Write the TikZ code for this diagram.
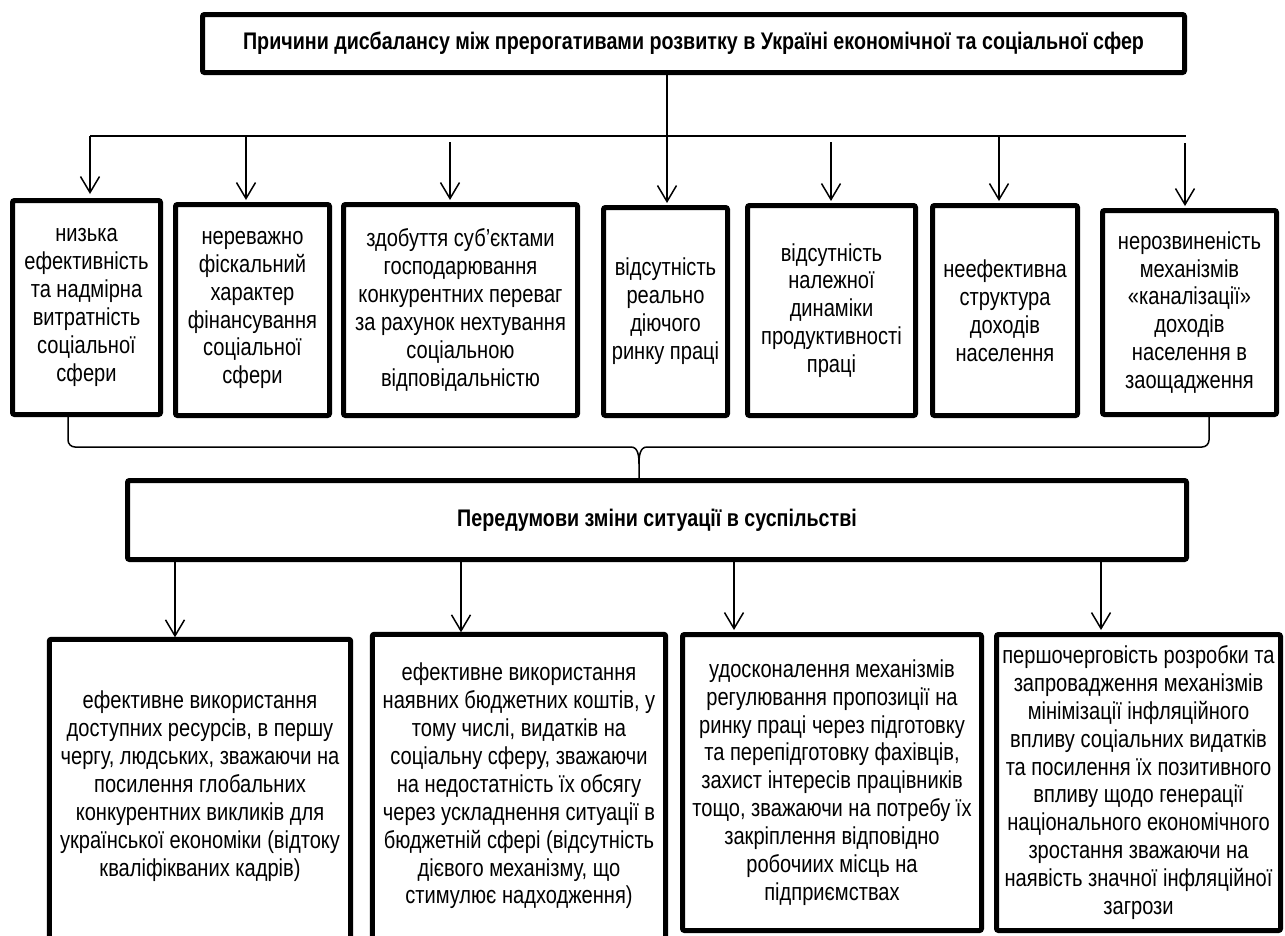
\documentclass[tikz,border=0pt]{standalone}
\usepackage{fontspec}
\setmainfont{Liberation Sans}[FakeStretch=0.82]
\usetikzlibrary{arrows.meta}
\begin{document}
\begin{tikzpicture}[x=1pt,y=-1pt,
  boxline/.style={line width=5pt, rounded corners=2pt},
  box/.style={draw, boxline, align=center, inner sep=0pt, font=\fontsize{24.5}{27.9}\selectfont},
  openbox/.style={align=center, inner sep=0pt, font=\fontsize{24.5}{27.9}\selectfont},
  head/.style={box, font=\bfseries\fontsize{24}{27}\selectfont},
  conn/.style={line width=1.5pt},
  arr/.style={conn, -{Straight Barb[length=16pt,width=19pt]}}]
\useasboundingbox (0,0) rectangle (1285,935);

% title
\node[head, minimum width=982pt, minimum height=58pt] (top) at (693.5,43.5)
  {Причини дисбалансу між прерогативами розвитку в Україні економічної та соціальної сфер};

% first row
\node[box, minimum width=148pt, minimum height=214pt] (b1) at (86.5,307.5)
  {низька\\ефективність\\та надмірна\\витратність\\соціальної\\сфери};
\node[box, minimum width=154pt, minimum height=211pt] (b2) at (252.5,310)
  {нереважно\\фіскальний\\характер\\фінансування\\соціальної\\сфери};
\node[box, minimum width=234pt, minimum height=211pt] (b3) at (460.5,310)
  {здобуття суб’єктами\\господарювання\\конкурентних переваг\\за рахунок нехтування\\соціальною\\відповідальністю};
\node[box, minimum width=124pt, minimum height=208pt] (b4) at (665.5,311.5)
  {відсутність\\реально\\діючого\\ринку праці};
\node[box, minimum width=168pt, minimum height=210pt] (b5) at (831.5,310.5)
  {відсутність\\належної\\динаміки\\продуктивності\\праці};
\node[box, minimum width=145pt, minimum height=210pt] (b6) at (1005,310.5)
  {неефективна\\структура\\доходів\\населення};
\node[box, minimum width=174pt, minimum height=204pt] (b7) at (1189.5,312.5)
  {нерозвиненість\\механізмів\\«каналізації»\\доходів\\населення в\\заощадження};

% bus
\coordinate (a1) at (90,136);
\coordinate (aR) at (1186,136);
\coordinate (tj) at (667,136);
\coordinate (a2) at (246,136);
\coordinate (a3) at (450,142);
\coordinate (a4) at (667,136);
\coordinate (a5) at (831,142);
\coordinate (a6) at (999,136);
\coordinate (a7) at (1185,143);
\draw[conn] (tj |- top.south) -- (tj);
\draw[conn] (a1) -- (aR);
\draw[arr, shorten >=4pt] (a1) -- (a1 |- b1.north);
\draw[arr, shorten >=2pt] (a2) -- (a2 |- b2.north);
\draw[arr, shorten >=2pt] (a3) -- (a3 |- b3.north);
\draw[arr, shorten >=2pt] (a4) -- (a4 |- b4.north);
\draw[arr, shorten >=2pt] (a5) -- (a5 |- b5.north);
\draw[arr, shorten >=2pt] (a6) -- (a6 |- b6.north);
\draw[arr, shorten >=2pt] (a7) -- (a7 |- b7.north);

% middle box
\node[head, minimum width=1059pt, minimum height=79pt] (mid) at (657,520)
  {Передумови зміни ситуації в суспільстві};

% brace
\coordinate (brL) at (68,447);
\coordinate (brR) at (1209,447);
\coordinate (brM) at (639,464);
\coordinate (brA) at (631,447);
\coordinate (brB) at (647,447);
\draw[conn, rounded corners=7pt] (brL |- b1.south) -- (brL) -- (brA);
\draw[conn] (brA) to[out=0,in=90] (brM) -- (brM |- mid.north);
\draw[conn] (brB) to[out=180,in=90] (brM);
\draw[conn, rounded corners=7pt] (brB) -- (brR) -- (brR |- b7.south);

% bottom row
\node[openbox, minimum width=301pt, minimum height=293pt] (c1) at (200,786)
  {ефективне використання\\доступних ресурсів, в першу\\чергу, людських, зважаючи на\\посилення глобальних\\конкурентних викликів для\\української економіки (відтоку\\кваліфікваних кадрів)};
\draw[boxline] ([yshift=-40pt]c1.south west) -- (c1.north west) -- (c1.north east) -- ([yshift=-40pt]c1.south east);
\node[openbox, minimum width=293pt, minimum height=303pt] (c2) at (519,786)
  {ефективне використання\\наявних бюджетних коштів, у\\тому числі, видатків на\\соціальну сферу, зважаючи\\на недостатність їх обсягу\\через ускладнення ситуації в\\бюджетній сфері (відсутність\\дієвого механізму, що\\стимулює надходження)};
\draw[boxline] ([yshift=-40pt]c2.south west) -- (c2.north west) -- (c2.north east) -- ([yshift=-40pt]c2.south east);
\node[box, minimum width=299pt, minimum height=296pt] (c3) at (832,782.5)
  {удосконалення механізмів\\регулювання пропозиції на\\ринку праці через підготовку\\та перепідготовку фахівців,\\захист інтересів працівників\\тощо,  зважаючи на потребу їх\\закріплення відповідно\\робочиих місць на\\підприємствах};
\node[box, minimum width=284pt, minimum height=296pt] (c4) at (1138.5,782.5)
  {першочерговість розробки та\\запровадження механізмів\\мінімізації інфляційного\\впливу соціальних видатків\\та посилення їх позитивного\\впливу щодо генерації\\національного економічного\\зростання  зважаючи на\\наявість значної інфляційної\\загрози};

\coordinate (d1) at (175,562);
\coordinate (d2) at (461,562);
\coordinate (d3) at (734,562);
\coordinate (d4) at (1101,562);
\draw[arr, shorten >=2pt] (d1) -- (d1 |- c1.north);
\draw[arr, shorten >=2pt] (d2) -- (d2 |- c2.north);
\draw[arr, shorten >=2pt] (d3) -- (d3 |- c3.north);
\draw[arr, shorten >=2pt] (d4) -- (d4 |- c4.north);
\end{tikzpicture}
\end{document}
